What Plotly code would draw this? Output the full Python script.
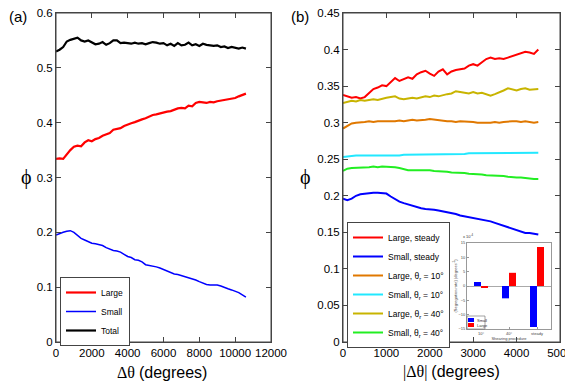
import plotly.graph_objects as go

# the page body adds an 8px margin; lay the figure out in screen pixels minus that offset
OFF = 8
W, H = 573 - OFF, 384 - OFF
def px(x): return (x - OFF) / W
def py(y): return 1 - (y - OFF) / H

# ---------------- data: panel (a) ----------------
a_step = 200
a_large = [.334, .335, .334, .343, .350, .356, .358, .357, .364, .368, .366, .370, .372, .376, .378, .381,
           .387, .388, .390, .394, .397, .399, .401, .404, .406, .408, .411, .414, .415, .417, .418, .420,
           .421, .424, .426, .427, .426, .431, .430, .436, .438, .437, .436, .438, .437, .439, .440, .441,
           .442, .444, .445, .448, .450, .453]
a_total = [.530, .533, .538, .548, .551, .553, .555, .550, .548, .550, .546, .543, .544, .547, .542, .545,
           .550, .550, .545, .546, .545, .544, .546, .544, .545, .543, .545, .547, .546, .544, .545, .541,
           .544, .540, .545, .541, .542, .546, .541, .543, .540, .544, .542, .541, .540, .541, .538, .539,
           .536, .538, .537, .535, .537, .535]
a_small = [.195, .198, .200, .202, .203, .200, .194, .189, .186, .183, .180, .179, .178, .176, .172, .169,
           .167, .166, .164, .160, .156, .154, .150, .149, .146, .141, .140, .139, .137, .135, .132, .129,
           .126, .124, .123, .121, .119, .118, .116, .113, .110, .107, .105, .104, .104, .104, .102, .099,
           .097, .095, .093, .090, .086, .082]
a_x = [i * a_step for i in range(len(a_large))]
a_ticks = [0, 2000, 4000, 6000, 8000, 10000, 12000]
a_yticks = [0, 0.1, 0.2, 0.3, 0.4, 0.5, 0.6]
a_yticktext = ["0", "0.1", "0.2", "0.3", "0.4", "0.5", "0.6"]

# ---------------- data: panel (b) ----------------
b_step = 100
b_large_steady = [.338, .336, .334, .335, .333, .335, .341, .346, .348, .351, .350, .356, .361, .357, .359, .362,
                  .360, .366, .369, .371, .367, .364, .370, .373, .366, .370, .372, .373, .374, .378, .380, .378,
                  .383, .387, .389, .387, .388, .387, .389, .391, .393, .395, .397, .396, .394, .400]
b_small_steady = [.196, .194, .196, .200, .202, .203, .203, .204, .204, .204, .203, .199, .195, .192, .190, .188,
                  .186, .184, .183, .182, .182, .181, .180, .179, .178, .176, .175, .173, .172, .171, .170, .169,
                  .168, .166, .165, .163, .161, .158, .156, .154, .152, .150, .149, .149, .148, .147]
b_large_10 = [.292, .296, .299, .300, .300, .301, .302, .301, .302, .302, .302, .301, .302, .303, .302, .303,
              .304, .303, .303, .304, .305, .304, .303, .303, .302, .302, .301, .302, .302, .301, .301, .300,
              .300, .299, .300, .301, .300, .301, .302, .302, .302, .301, .302, .301, .300, .301]
b_small_10 = [.253, .254, .254, .255, .255, .255, .255, .255, .254, .254, .254, .255, .255, .255, .256, .256,
              .256, .256, .256, .256, .256, .256, .257, .257, .257, .257, .257, .257, .257, .258, .258, .258,
              .258, .258, .258, .258, .258, .258, .259, .259, .259, .259, .259, .259, .259, .259]
b_large_40 = [.327, .328, .330, .329, .331, .330, .331, .332, .331, .333, .334, .335, .336, .333, .332, .333,
              .334, .333, .335, .336, .335, .337, .336, .338, .339, .340, .343, .342, .341, .340, .342, .340,
              .341, .339, .337, .339, .341, .344, .347, .345, .344, .346, .347, .345, .346, .346]
b_small_40 = [.234, .237, .238, .238, .239, .239, .239, .240, .239, .240, .240, .239, .239, .238, .236, .235,
              .235, .235, .236, .235, .235, .234, .234, .233, .233, .232, .232, .231, .231, .230, .230, .229,
              .229, .228, .228, .228, .227, .227, .226, .225, .225, .225, .224, .224, .223, .223]
b_x = [i * b_step for i in range(len(b_large_steady))]
b_xticks = [0, 1000, 2000, 3000, 4000, 5000]
b_yticks = [0, 0.05, 0.1, 0.15, 0.2, 0.25, 0.3, 0.35, 0.4, 0.45]
b_yticktext = ["0", "0.05", "0.1", "0.15", "0.2", "0.25", "0.3", "0.35", "0.4", "0.45"]

# ---------------- data: inset ----------------
inset_cats = [1, 2, 3]
inset_ticktext = ["10°", "40°", "steady"]
inset_small = [1.4, -4.3, -14.3]
inset_large = [-0.7, 4.6, 13.6]
inset_yticks = [-15, -10, -5, 0, 5, 10, 15]

# ---------------- styling ----------------
SANS = "Liberation Sans, Arial, sans-serif"
SERIF = "Liberation Serif, DejaVu Serif, serif"
TICKF = dict(family=SANS, size=11.5, color="black")
LEGF = dict(family=SANS, size=8.5, color="black")
RED, BLUE, BLACK = "#FF0000", "#0000FF", "#000000"
ORANGE, CYAN, OLIVE, GREEN = "#E07800", "#22E8FF", "#C8B400", "#22EE22"

fig = go.Figure()
lw = 2.2
fig.add_trace(go.Scatter(x=a_x, y=a_large, mode="lines", line=dict(color=RED, width=lw), name="Large",
                         legend="legend", xaxis="x", yaxis="y"))
fig.add_trace(go.Scatter(x=a_x, y=a_small, mode="lines", line=dict(color=BLUE, width=1.5), name="Small",
                         legend="legend", xaxis="x", yaxis="y"))
fig.add_trace(go.Scatter(x=a_x, y=a_total, mode="lines", line=dict(color=BLACK, width=lw), name="Total",
                         legend="legend", xaxis="x", yaxis="y"))

bsets = [
    (b_large_steady, RED, "Large, steady"),
    (b_small_steady, BLUE, "Small, steady"),
    (b_large_10, ORANGE, "Large, θ<sub>r</sub> = 10°"),
    (b_small_10, CYAN, "Small, θ<sub>r</sub> = 10°"),
    (b_large_40, OLIVE, "Large, θ<sub>r</sub> = 40°"),
    (b_small_40, GREEN, "Small, θ<sub>r</sub> = 40°"),
]
for ys, c, n in bsets:
    fig.add_trace(go.Scatter(x=b_x, y=ys, mode="lines", line=dict(color=c, width=2), name=n,
                             legend="legend2", xaxis="x2", yaxis="y2"))

fig.add_trace(go.Bar(x=inset_cats, y=inset_small, width=0.25, offset=-0.25,
                     marker=dict(color=BLUE, line=dict(width=0)), showlegend=False, xaxis="x3", yaxis="y3"))
fig.add_trace(go.Bar(x=inset_cats, y=inset_large, width=0.25, offset=0,
                     marker=dict(color=RED, line=dict(width=0)), showlegend=False, xaxis="x3", yaxis="y3"))

axcommon = dict(showline=True, linecolor="#444", linewidth=1, mirror="ticks", ticks="inside", ticklen=5,
                tickcolor="#444", showgrid=False, zeroline=False, tickfont=TICKF, automargin=False,
                ticklabeloverflow="allow")
inset_ax = dict(showline=True, linecolor="#999", linewidth=1, mirror=True, ticks="inside", ticklen=2,
                tickcolor="#999", showgrid=False, tickfont=dict(family=SANS, size=4, color="#444"), automargin=False,
                ticklabeloverflow="allow")

fig.update_layout(
    width=W, height=H, margin=dict(l=0, r=0, t=0, b=0, autoexpand=False),
    paper_bgcolor="white", plot_bgcolor="white", showlegend=True,
    xaxis=dict(domain=[px(56), px(271)], range=[0, 12000], tickvals=a_ticks, ticktext=[str(t) for t in a_ticks],
               anchor="y", **axcommon),
    yaxis=dict(domain=[py(342), py(13)], range=[0, 0.6], tickvals=a_yticks, ticktext=a_yticktext,
               anchor="x", **axcommon),
    xaxis2=dict(domain=[px(343), px(560)], range=[0, 5000], tickvals=b_xticks, ticktext=[str(t) for t in b_xticks],
                anchor="y2", **axcommon),
    yaxis2=dict(domain=[py(342), py(13)], range=[0, 0.45], tickvals=b_yticks, ticktext=b_yticktext,
                anchor="x2", **axcommon),
    xaxis3=dict(domain=[px(467), px(551)], range=[0.5, 3.5], tickvals=inset_cats, ticktext=inset_ticktext,
                anchor="y3", zeroline=False,
                title=dict(text="Shearing procedure", font=dict(family=SANS, size=4, color="#444"), standoff=1),
                **inset_ax),
    yaxis3=dict(domain=[py(329), py(243)], range=[-15, 15], tickvals=inset_yticks, anchor="x3",
                zeroline=True, zerolinecolor="#aaa", zerolinewidth=1,
                title=dict(text="(Segregation rate) (degrees<sup>-1</sup>)", font=dict(family=SANS, size=4, color="#444"),
                           standoff=1),
                **inset_ax),
    bargap=0.5,
    legend=dict(x=px(60), y=py(277), xanchor="left", yanchor="top", bgcolor="white", bordercolor="#444",
                borderwidth=1, font=LEGF, tracegroupgap=0, itemwidth=30),
    legend2=dict(x=px(347), y=py(222), xanchor="left", yanchor="top", bgcolor="white", bordercolor="#444",
                 borderwidth=1, font=LEGF, tracegroupgap=0, itemwidth=30),
)

# panel frames (drawn explicitly) and inset legend swatches
shapes = [
    dict(type="rect", xref="x domain", yref="y domain", x0=0, x1=1, y0=0, y1=1,
         line=dict(color="#444", width=1), layer="above"),
    dict(type="rect", xref="x2 domain", yref="y2 domain", x0=0, x1=1, y0=0, y1=1,
         line=dict(color="#444", width=1), layer="above"),
    dict(type="rect", xref="paper", yref="paper", x0=px(467), x1=px(485), y0=py(329), y1=py(316),
         line=dict(color="#666", width=0.6), fillcolor="white"),
    dict(type="rect", xref="paper", yref="paper", x0=px(468), x1=px(474), y0=py(322), y1=py(318),
         line=dict(width=0), fillcolor=BLUE),
    dict(type="rect", xref="paper", yref="paper", x0=px(468), x1=px(474), y0=py(327), y1=py(323),
         line=dict(width=0), fillcolor=RED),
]
fig.update_layout(shapes=shapes)

def note(text, x, y, font, xa="center", ya="middle"):
    return dict(text=text, x=px(x), y=py(y), xref="paper", yref="paper", showarrow=False,
                xanchor=xa, yanchor=ya, font=font)

ann = [
    note("Small", 475, 320, dict(family=SANS, size=4, color="#333"), xa="left"),
    note("Large", 475, 325, dict(family=SANS, size=4, color="#333"), xa="left"),
    note("x 10<sup>-4</sup>", 468, 241, dict(family=SANS, size=4, color="#333"), ya="bottom"),
    note("(a)", 18, 16, dict(family=SANS, size=15, color="black")),
    note("(b)", 300, 16, dict(family=SANS, size=15, color="black")),
    note("ϕ", 26, 177, dict(family=SERIF, size=20, color="black")),
    note("ϕ", 305, 177, dict(family=SERIF, size=20, color="black")),
    note("Δθ <span style='font-family:Liberation Sans'>(degrees)</span>", 162, 372,
         dict(family=SERIF, size=16, color="black")),
    note("|Δθ| <span style='font-family:Liberation Sans'>(degrees)</span>", 451, 372,
         dict(family=SERIF, size=16, color="black")),
]
fig.update_layout(annotations=ann)

fig.write_html("out.html")
